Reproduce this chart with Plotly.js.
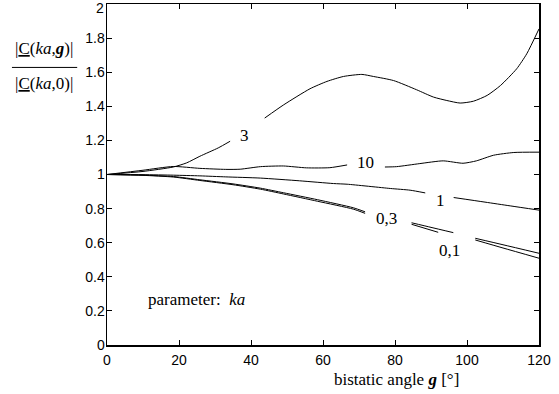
<!DOCTYPE html>
<html>
<head>
<meta charset="utf-8">
<script src="https://cdn.plot.ly/plotly-3.0.1.min.js"></script>
<style>html,body{margin:0;padding:0;background:#fff;}#chart{width:559px;height:394px;}</style>
</head>
<body>
<div id="chart"></div>
<script>
// ka = 3
const angle_ka3 = [0, 10, 18.4, 22.1, 25.8, 30.9, 34.2, 39, 43.8, 49.1, 56.4, 61.1, 65.7, 70.8, 74, 79.6, 86, 90.7, 94.4, 98.1, 101.8, 105.6, 109.3, 113.8, 116.6, 120];
const ratio_ka3 = [1, 1.018, 1.044, 1.068, 1.107, 1.156, 1.195, null, 1.331, 1.409, 1.503, 1.546, 1.575, 1.587, 1.575, 1.551, 1.497, 1.454, 1.434, 1.419, 1.430, 1.464, 1.522, 1.620, 1.708, 1.854];
// ka = 10
const angle_ka10 = [0, 10, 18.4, 25.8, 33, 37, 42.6, 49, 55.4, 61.9, 66.7, 71, 77.2, 80.4, 86.9, 93.4, 98.9, 102.6, 107.4, 113, 120];
const ratio_ka10 = [1, 1.025, 1.047, 1.036, 1.030, 1.031, 1.046, 1.050, 1.039, 1.040, 1.056, null, 1.044, 1.046, 1.064, 1.080, 1.066, 1.080, 1.113, 1.129, 1.131];
// ka = 1
const angle_ka1 = [0, 10, 18.5, 25.8, 33, 42.6, 53.5, 62.9, 66.7, 78.7, 84.2, 88.4, 92, 96.3, 105, 112, 120];
const ratio_ka1 = [1, 0.999, 0.996, 0.992, 0.986, 0.979, 0.963, 0.947, 0.943, 0.918, 0.908, 0.892, null, 0.865, 0.838, 0.816, 0.791];
// ka = 0,3
const angle_ka03 = [0, 10, 18.5, 25.8, 35, 42.6, 49, 58.5, 68.4, 71.7, 78, 84.6, 90, 96.2, 99, 102.3, 110, 120];
const ratio_ka03 = [1, 0.996, 0.988, 0.969, 0.945, 0.920, 0.893, 0.852, 0.805, 0.781, null, 0.717, 0.690, 0.659, null, 0.626, 0.588, 0.538];
// ka = 0,1
const angle_ka01 = [0, 10, 18.5, 25.8, 35, 42.6, 49, 58.5, 68.4, 71.7, 78, 84.6, 92, 96, 102.3, 110, 120];
const ratio_ka01 = [1, 0.995, 0.985, 0.965, 0.940, 0.914, 0.886, 0.843, 0.797, 0.772, null, 0.708, 0.661, null, 0.616, 0.569, 0.509];

// curve labels
const labelText = ["3", "10", "1", "0,3", "0,1"];
const labelX = [38.3, 71.7, 92.6, 77.7, 95];
const labelY = [1.23, 1.068, 0.85, 0.743, 0.557];

const xTicks = [0, 20, 40, 60, 80, 100, 120];
const yTicks = [0, 0.2, 0.4, 0.6, 0.8, 1, 1.2, 1.4, 1.6, 1.8];
const yTopTick = 2;

const serif = "Liberation Serif";
const sans = "Liberation Sans";

const lineStyle = {color: "#000", width: 1, shape: "spline", smoothing: 0.6};
const series = [
  [angle_ka3, ratio_ka3], [angle_ka10, ratio_ka10], [angle_ka1, ratio_ka1],
  [angle_ka03, ratio_ka03], [angle_ka01, ratio_ka01]
];
const traces = series.map(s => ({
  x: s[0], y: s[1], type: "scatter", mode: "lines",
  line: lineStyle, connectgaps: false, hoverinfo: "skip"
}));

const fnt = {family: serif, size: 17, color: "#000"};
const annotations = labelText.map((t, i) => ({
  x: labelX[i], y: labelY[i], xref: "x", yref: "y", text: t,
  xanchor: "center", yanchor: "middle", showarrow: false, font: fnt
}));
annotations.push({
  x: 10.9, y: 0.265, xref: "x", yref: "y", xanchor: "left", yanchor: "middle",
  text: "parameter:  <i>ka</i>", showarrow: false, font: fnt
});
annotations.push({
  x: 0.671, y: -0.101, xref: "paper", yref: "paper", xanchor: "center", yanchor: "middle",
  text: "bistatic angle <b><i>g</i></b> [°]", showarrow: false, font: fnt
});
annotations.push({
  x: -0.146, y: 0.869, xref: "paper", yref: "paper", xanchor: "center", yanchor: "middle",
  text: "|<u>C</u>(<i>ka</i>,<b><i>g</i></b>)|", showarrow: false, font: fnt
});
annotations.push({
  x: -0.146, y: 0.767, xref: "paper", yref: "paper", xanchor: "center", yanchor: "middle",
  text: "|<u>C</u>(<i>ka</i>,0)|", showarrow: false, font: fnt
});
// top y tick label, nudged down slightly so it stays inside the page
annotations.push({
  x: 0, y: yTopTick, xref: "paper", yref: "y", xanchor: "right", yanchor: "middle", xshift: -1, yshift: -4,
  text: String(yTopTick), showarrow: false, font: {family: sans, size: 14, color: "#000"}
});

const axisCommon = {
  showgrid: false, zeroline: false, showline: true, linecolor: "#000", linewidth: 1.5,
  mirror: "ticks", ticks: "inside", ticklen: 5, tickwidth: 1, tickcolor: "#000",
  tickfont: {family: sans, size: 14, color: "#000"}
};

const layout = {
  width: 559, height: 394,
  margin: {l: 107, r: 20, t: 4, b: 49},
  paper_bgcolor: "#fff", plot_bgcolor: "#fff",
  showlegend: false,
  xaxis: Object.assign({}, axisCommon, {range: [0, 120], tickvals: xTicks, ticktext: xTicks.map(String), ticklabelstandoff: 2}),
  yaxis: Object.assign({}, axisCommon, {range: [0, 2], tickvals: yTicks.concat([yTopTick]), ticktext: yTicks.map(String).concat([""]), ticklabelstandoff: -2}),
  annotations: annotations,
  shapes: [{type: "line", xref: "paper", yref: "paper", x0: -0.22, x1: -0.069, y0: 0.814, y1: 0.814,
            line: {color: "#000", width: 1}}]
};

Plotly.newPlot("chart", traces, layout, {displayModeBar: false, staticPlot: true});
</script>
</body>
</html>
